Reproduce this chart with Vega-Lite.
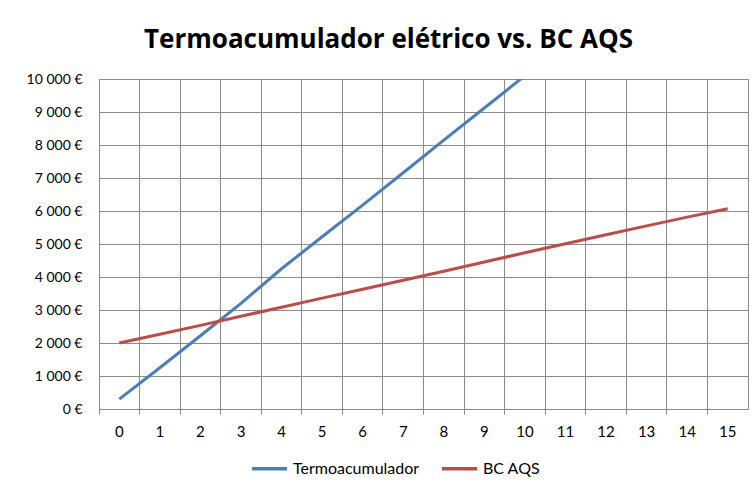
{
  "$schema": "https://vega.github.io/schema/vega-lite/v6.json",
  "width": 649,
  "height": 330,
  "autosize": {"type": "none"},
  "padding": {"left": 99, "top": 79, "right": 7, "bottom": 82},
  "background": "white",
  "title": {
    "text": "Termoacumulador elétrico vs. BC AQS",
    "font": "Open Sans",
    "fontSize": 26,
    "fontWeight": "bold",
    "color": "#000000",
    "anchor": "middle",
    "dx": -35,
    "offset": 19
  },
  "data": {
    "values": [
      {"t": 0, "serie": "Termoacumulador", "custo": 300},
      {"t": 1, "serie": "Termoacumulador", "custo": 1250},
      {"t": 2, "serie": "Termoacumulador", "custo": 2220},
      {"t": 3, "serie": "Termoacumulador", "custo": 3200},
      {"t": 4, "serie": "Termoacumulador", "custo": 4250},
      {"t": 5, "serie": "Termoacumulador", "custo": 5220},
      {"t": 6, "serie": "Termoacumulador", "custo": 6180},
      {"t": 7, "serie": "Termoacumulador", "custo": 7160},
      {"t": 8, "serie": "Termoacumulador", "custo": 8150},
      {"t": 9, "serie": "Termoacumulador", "custo": 9120},
      {"t": 10, "serie": "Termoacumulador", "custo": 10100},
      {"t": 11, "serie": "Termoacumulador", "custo": 11080},
      {"t": 12, "serie": "Termoacumulador", "custo": 12050},
      {"t": 13, "serie": "Termoacumulador", "custo": 13030},
      {"t": 14, "serie": "Termoacumulador", "custo": 14000},
      {"t": 15, "serie": "Termoacumulador", "custo": 14980},
      {"t": 0, "serie": "BC AQS", "custo": 2000},
      {"t": 1, "serie": "BC AQS", "custo": 2265},
      {"t": 2, "serie": "BC AQS", "custo": 2535},
      {"t": 3, "serie": "BC AQS", "custo": 2810},
      {"t": 4, "serie": "BC AQS", "custo": 3085},
      {"t": 5, "serie": "BC AQS", "custo": 3360},
      {"t": 6, "serie": "BC AQS", "custo": 3630},
      {"t": 7, "serie": "BC AQS", "custo": 3900},
      {"t": 8, "serie": "BC AQS", "custo": 4175},
      {"t": 9, "serie": "BC AQS", "custo": 4455},
      {"t": 10, "serie": "BC AQS", "custo": 4735},
      {"t": 11, "serie": "BC AQS", "custo": 5010},
      {"t": 12, "serie": "BC AQS", "custo": 5280},
      {"t": 13, "serie": "BC AQS", "custo": 5550},
      {"t": 14, "serie": "BC AQS", "custo": 5815},
      {"t": 15, "serie": "BC AQS", "custo": 6070}
    ]
  },
  "mark": {"type": "line", "strokeWidth": 3, "clip": true},
  "encoding": {
    "x": {
      "field": "t",
      "type": "ordinal",
      "sort": null,
      "scale": {"type": "band", "paddingInner": 0, "paddingOuter": 0},
      "axis": {
        "title": null,
        "labelAngle": 0,
        "labelFont": "Lato",
        "labelFontSize": 15,
        "labelColor": "#000000",
        "labelPadding": 10,
        "bandPosition": 0,
        "ticks": true,
        "tickSize": 5,
        "tickColor": "#8c8c8c",
        "grid": true,
        "gridColor": "#8c8c8c",
        "gridWidth": 1,
        "domainColor": "#8c8c8c"
      }
    },
    "y": {
      "field": "custo",
      "type": "quantitative",
      "scale": {"domain": [0, 10000], "nice": false},
      "axis": {
        "title": null,
        "values": [0, 1000, 2000, 3000, 4000, 5000, 6000, 7000, 8000, 9000, 10000],
        "labelExpr": "replace(format(datum.value, ',d'), ',', ' ') + ' €'",
        "labelFont": "Lato",
        "labelFontSize": 14,
        "labelColor": "#000000",
        "labelPadding": 17,
        "ticks": false,
        "grid": true,
        "gridColor": "#8c8c8c",
        "gridWidth": 1,
        "domainColor": "#8c8c8c"
      }
    },
    "color": {
      "field": "serie",
      "type": "nominal",
      "sort": ["Termoacumulador", "BC AQS"],
      "scale": {"domain": ["Termoacumulador", "BC AQS"], "range": ["#4a7ebb", "#be4b48"]},
      "legend": {
        "title": null,
        "orient": "none",
        "direction": "horizontal",
        "legendX": 151,
        "legendY": 370,
        "symbolType": "stroke",
        "symbolSize": 1225,
        "symbolStrokeWidth": 3.5,
        "labelFont": "Lato",
        "labelFontSize": 16,
        "labelColor": "#000000",
        "labelOffset": 4,
        "columnPadding": 15
      }
    }
  },
  "config": {
    "view": {"stroke": "#8c8c8c", "strokeWidth": 1}
  }
}
